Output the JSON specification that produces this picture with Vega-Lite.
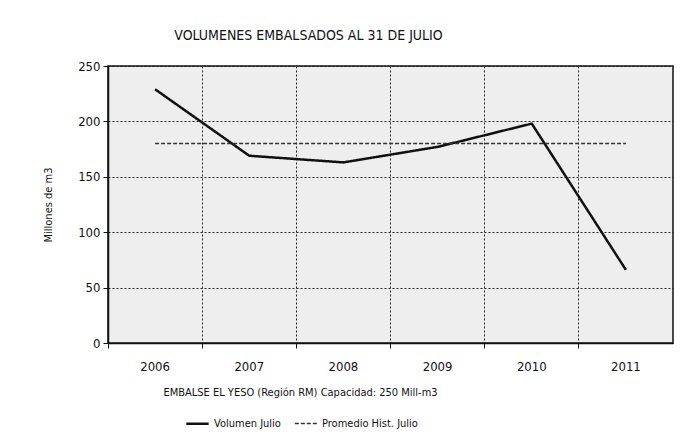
{
  "$schema": "https://vega.github.io/schema/vega-lite/v6.json",
  "autosize": {"type": "none"},
  "width": 565,
  "height": 277,
  "padding": {"left": 108, "top": 66, "right": 15, "bottom": 103},
  "background": "white",
  "title": {
    "text": "VOLUMENES EMBALSADOS  AL 31 DE JULIO",
    "frame": "group",
    "anchor": "middle",
    "dx": -82,
    "offset": 17,
    "font": "DejaVu Sans Condensed, Liberation Sans, sans-serif",
    "fontSize": 14,
    "fontWeight": "normal",
    "color": "#111111"
  },
  "config": {
    "view": {"stroke": "#111111", "strokeWidth": 1.5, "fill": "#eeeeee"},
    "font": "DejaVu Sans Condensed, Liberation Sans, sans-serif"
  },
  "data": {
    "values": [
      {"year": "2006", "serie": "Volumen Julio", "value": 229},
      {"year": "2007", "serie": "Volumen Julio", "value": 169},
      {"year": "2008", "serie": "Volumen Julio", "value": 163},
      {"year": "2009", "serie": "Volumen Julio", "value": 177},
      {"year": "2010", "serie": "Volumen Julio", "value": 198},
      {"year": "2011", "serie": "Volumen Julio", "value": 66},
      {"year": "2006", "serie": "Promedio Hist. Julio", "value": 180},
      {"year": "2007", "serie": "Promedio Hist. Julio", "value": 180},
      {"year": "2008", "serie": "Promedio Hist. Julio", "value": 180},
      {"year": "2009", "serie": "Promedio Hist. Julio", "value": 180},
      {"year": "2010", "serie": "Promedio Hist. Julio", "value": 180},
      {"year": "2011", "serie": "Promedio Hist. Julio", "value": 180}
    ]
  },
  "mark": {"type": "line", "strokeCap": "butt"},
  "encoding": {
    "x": {
      "field": "year",
      "type": "ordinal",
      "scale": {"type": "band", "paddingInner": 0, "paddingOuter": 0},
      "axis": {
        "title": "EMBALSE EL YESO (Región RM)  Capacidad: 250 Mill-m3",
        "titleFontSize": 11,
        "titleFontWeight": "normal",
        "titleColor": "#111111",
        "titleX": 192,
        "titleY": 49,
        "titleBaseline": "middle",
        "titleAnchor": "middle",
        "labelAngle": 0,
        "labelFontSize": 13,
        "labelColor": "#111111",
        "labelPadding": 12,
        "bandPosition": 0,
        "domainColor": "#111111",
        "domainWidth": 1.5,
        "tickColor": "#111111",
        "tickSize": 5,
        "grid": true,
        "gridColor": "#222222",
        "gridDash": [2, 2],
        "gridWidth": 1
      }
    },
    "y": {
      "field": "value",
      "type": "quantitative",
      "scale": {"domain": [0, 250], "nice": false},
      "axis": {
        "title": "Millones de m3",
        "titleFontSize": 11,
        "titleFontWeight": "normal",
        "titleColor": "#111111",
        "titlePadding": 24,
        "values": [0, 50, 100, 150, 200, 250],
        "labelFontSize": 13,
        "labelColor": "#111111",
        "labelPadding": 3,
        "domainColor": "#111111",
        "domainWidth": 1.5,
        "tickColor": "#111111",
        "tickSize": 5,
        "grid": true,
        "gridColor": "#222222",
        "gridDash": [2, 2],
        "gridWidth": 1
      }
    },
    "color": {
      "field": "serie",
      "type": "nominal",
      "scale": {"domain": ["Volumen Julio", "Promedio Hist. Julio"], "range": ["#111111", "#333333"]},
      "legend": {
        "title": null,
        "orient": "none",
        "direction": "horizontal",
        "legendX": 77,
        "legendY": 345,
        "labelFontSize": 11,
        "labelColor": "#111111",
        "symbolType": "stroke",
        "symbolSize": 500,
        "symbolStrokeWidth": 1.5,
        "columnPadding": 10
      }
    },
    "strokeDash": {
      "field": "serie",
      "type": "nominal",
      "scale": {"domain": ["Volumen Julio", "Promedio Hist. Julio"], "range": [[1, 0], [4, 2]]},
      "legend": {
        "title": null,
        "orient": "none",
        "direction": "horizontal",
        "legendX": 77,
        "legendY": 345,
        "labelFontSize": 11,
        "labelColor": "#111111",
        "symbolType": "stroke",
        "symbolSize": 500,
        "symbolStrokeWidth": 1.5,
        "columnPadding": 10
      }
    },
    "strokeWidth": {
      "field": "serie",
      "type": "nominal",
      "scale": {"domain": ["Volumen Julio", "Promedio Hist. Julio"], "range": [2.5, 1.6]},
      "legend": null
    }
  }
}
